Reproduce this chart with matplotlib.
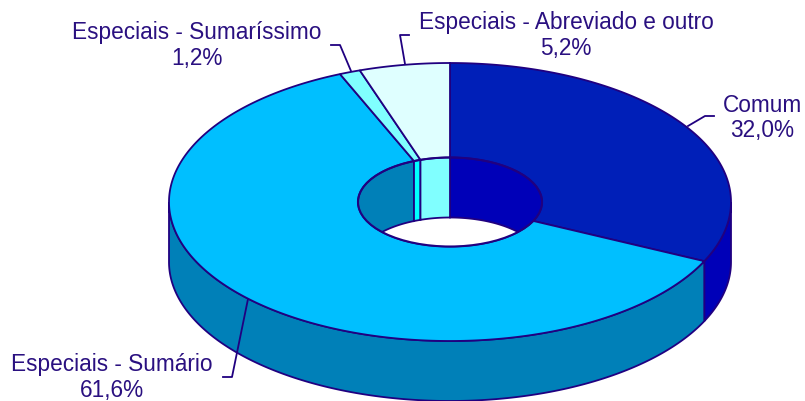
import numpy as np
import matplotlib
matplotlib.use('Agg')
import matplotlib.pyplot as plt
from matplotlib.patches import Ellipse, Polygon

plt.rcParams['font.family'] = ['Liberation Sans', 'DejaVu Sans']

# data, clockwise from 12 o'clock
categories = ['Comum', 'Especiais - Sumário', 'Especiais - Sumaríssimo', 'Especiais - Abreviado e outro']
values = [32.0, 61.6, 1.2, 5.2]
value_labels = ['32,0%', '61,6%', '1,2%', '5,2%']

top_colors = ['#001FB8', '#00BFFF', '#80FFFF', '#DFFFFF']
wall_colors = ['#0000B8', '#0080B8', '#00FFFF', '#80FFFF']
line_color = '#200080'
text_color = '#2A1080'

cx, cy = 450, 202
rx, ry = 281, 139
hx, hy = 92, 44.5
depth = 60

fig = plt.figure(figsize=(8.05, 4.01), dpi=100)
ax = fig.add_axes([0, 0, 1, 1])
ax.set_xlim(0, 805)
ax.set_ylim(401, 0)
ax.axis('off')


def arc(a, b, w, h, dy=0):
    t = np.radians(np.linspace(a, b, max(int(abs(b - a) * 2), 2)))
    return np.column_stack([cx + w * np.sin(t), cy - h * np.cos(t) + dy])


edges = np.concatenate([[0], np.cumsum(values)]) * 3.6

# outer wall, only the front half shows
for i in range(len(values)):
    a, b = max(edges[i], 90), min(edges[i + 1], 270)
    if a >= b:
        continue
    pts = np.vstack([arc(a, b, rx, ry), arc(b, a, rx, ry, depth)])
    ax.add_patch(Polygon(pts, closed=True, fc=wall_colors[i], ec=line_color, lw=1.3, zorder=1))

# top of the ring
for i in range(len(values)):
    a, b = edges[i], edges[i + 1]
    pts = np.vstack([arc(a, b, rx, ry), arc(b, a, hx, hy)])
    ax.add_patch(Polygon(pts, closed=True, fc=top_colors[i], ec=line_color, lw=1.3, zorder=2))

# hole: white floor, then inner wall of the back half clipped to the hole
hole = Ellipse((cx, cy), 2 * hx, 2 * hy, fc='white', ec='none', zorder=3)
ax.add_patch(hole)
for i in range(len(values)):
    for a, b in [(edges[i], min(edges[i + 1], 90)), (max(edges[i], 270), edges[i + 1])]:
        if a >= b:
            continue
        pts = np.vstack([arc(a, b, hx, hy), arc(b, a, hx, hy, depth)])
        p = Polygon(pts, closed=True, fc=wall_colors[i], ec=line_color, lw=1.3, zorder=4)
        ax.add_patch(p)
        p.set_clip_path(hole)
ax.add_patch(Ellipse((cx, cy), 2 * hx, 2 * hy, fc='none', ec=line_color, lw=1.5, zorder=5))

# labels and leader lines
label_pos = [(762, 105, 130), (112, 365, 390), (197, 32, 59), (566, 22, 49)]
leaders = [
    [(688, 126), (705, 116), (714, 116)],
    [(248, 299), (232, 377), (223, 377)],
    [(351, 71), (340, 45), (331, 45)],
    [(405, 64), (400, 35), (409, 35)],
]
for i in range(len(categories)):
    x, y1, y2 = label_pos[i]
    ax.text(x, y1, categories[i], color=text_color, fontsize=16.3, ha='center', va='center', zorder=6)
    ax.text(x, y2, value_labels[i], color=text_color, fontsize=16.3, ha='center', va='center', zorder=6)
    lx, ly = zip(*leaders[i])
    ax.plot(lx, ly, color=line_color, lw=1.3, zorder=6)

fig.savefig('out.png', dpi=100)
